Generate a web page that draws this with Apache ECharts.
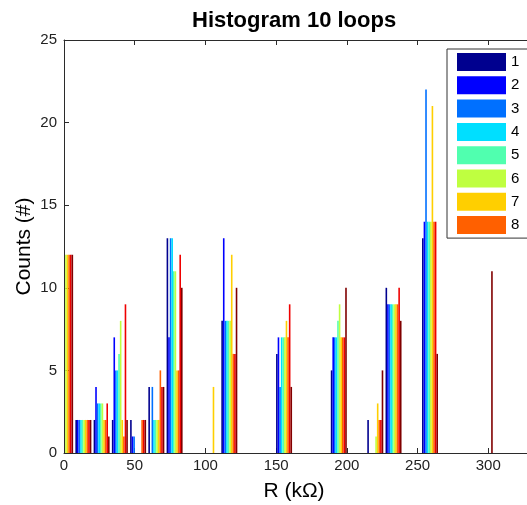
<!DOCTYPE html>
<html><head><meta charset="utf-8">
<script src="https://cdn.jsdelivr.net/npm/echarts@6/dist/echarts.min.js"></script>
<style>html,body{margin:0;padding:0;background:#fff}#c{width:527px;height:505px}</style>
</head><body><div id="c"></div>
<script>
// Bin centres of the histogram (kΩ)
const binCenters = [0.8, 13.7, 26.6, 39.5, 52.4, 65.3, 78.2, 91.1, 104.0, 116.9, 129.8, 142.7, 155.6, 168.5, 181.4, 194.3, 207.2, 220.1, 233.0, 245.9, 258.8, 271.7, 284.6, 297.5];
// Counts per loop, one value per bin
const loop1  = [0,2,2,2,2,4,13,0,0,8,0,0,6,0,0,5,0,2,10,0,13,0,0,0];
const loop2  = [0,2,4,7,1,0,7,0,0,13,0,0,7,0,0,7,0,0,9,0,14,0,0,0];
const loop3  = [0,2,3,5,1,4,13,0,0,8,0,0,4,0,0,7,0,0,9,0,22,0,0,0];
const loop4  = [0,2,3,5,0,2,13,0,0,8,0,0,7,0,0,7,0,0,9,0,14,0,0,0];
const loop5  = [0,2,3,6,0,2,11,0,0,8,0,0,7,0,0,8,0,0,9,0,14,0,0,0];
const loop6  = [12,2,3,8,0,2,11,0,0,8,0,0,7,0,0,9,0,1,9,0,14,0,0,0];
const loop7  = [12,2,2,2,0,2,5,0,4,12,0,0,8,0,0,7,0,3,9,0,21,0,0,0];
const loop8  = [12,2,2,1,2,5,5,0,0,6,0,0,7,0,0,7,0,2,9,0,14,0,0,0];
const loop9  = [12,2,3,9,2,4,12,0,0,6,0,0,9,0,0,7,0,2,10,0,14,0,0,0];
const loop10 = [12,2,1,2,2,4,10,0,0,10,0,0,4,0,0,10,0,5,8,0,6,0,0,11];
const loopNames = ['1','2','3','4','5','6','7','8','9','10'];
const legendNames = ['1','2','3','4','5','6','7','8'];
const loopColors = ['#00008F','#0000FF','#0070FF','#00DFFF','#50FFAF','#BFFF40','#FFCF00','#FF6000','#EF0000','#800000'];
const xTickValues = [0, 50, 100, 150, 200, 250, 300, 350];
const yTickValues = [0, 5, 10, 15, 20, 25];

const loops = [loop1, loop2, loop3, loop4, loop5, loop6, loop7, loop8, loop9, loop10];
const FONT = 'Liberation Sans, Arial, Helvetica, sans-serif';
const axisColor = '#2b2b2b';

const series = loops.map((vals, s) => ({
  name: loopNames[s],
  type: 'bar',
  barWidth: 1.6,
  barGap: '0%',
  clip: true,
  itemStyle: { color: loopColors[s] },
  data: binCenters.map((x, i) => [x, vals[i]])
}));

const chart = echarts.init(document.getElementById('c'), null, { renderer: 'canvas' });
chart.setOption({
  animation: false,
  backgroundColor: '#fff',
  textStyle: { fontFamily: FONT },
  title: {
    text: 'Histogram 10 loops',
    left: 192, top: 10, padding: 0,
    textStyle: { fontFamily: FONT, fontSize: 22, fontWeight: 'bold', color: '#000' }
  },
  grid: { left: 64, top: 40, width: 495, height: 413, containLabel: false, outerBoundsMode: 'none' },
  legend: {
    data: legendNames,
    orient: 'vertical',
    left: 447, top: 49,
    padding: [4, 34, 4, 10],
    itemWidth: 49, itemHeight: 18, itemGap: 5.3,
    icon: 'rect',
    borderColor: '#333', borderWidth: 1,
    backgroundColor: '#fff',
    textStyle: { fontFamily: FONT, fontSize: 15, color: '#000' },
    z: 10
  },
  xAxis: [{
    type: 'value', position: 'bottom',
    min: xTickValues[0], max: xTickValues[xTickValues.length - 1], interval: 50,
    axisLine: { show: true, lineStyle: { color: axisColor, width: 1 } },
    axisTick: { show: true, inside: true, length: 5, lineStyle: { color: axisColor } },
    axisLabel: { fontFamily: FONT, fontSize: 15, color: '#222', margin: 5 },
    splitLine: { show: false },
    name: 'R (kΩ)', nameLocation: 'middle', nameGap: 28, nameMoveOverlap: false,
    nameTextStyle: { fontFamily: FONT, fontSize: 21, color: '#000', padding: [0, 35, 0, 0] }
  }, {
    type: 'value', position: 'top',
    min: xTickValues[0], max: xTickValues[xTickValues.length - 1], interval: 50,
    axisLine: { show: true, onZero: false, lineStyle: { color: axisColor, width: 1 } },
    axisTick: { show: true, inside: true, length: 5, lineStyle: { color: axisColor } },
    axisLabel: { show: false },
    splitLine: { show: false }
  }],
  yAxis: [{
    type: 'value',
    min: yTickValues[0], max: yTickValues[yTickValues.length - 1], interval: 5,
    axisLine: { show: true, lineStyle: { color: axisColor, width: 1 } },
    axisTick: { show: true, inside: true, length: 5, lineStyle: { color: axisColor } },
    axisLabel: { fontFamily: FONT, fontSize: 15, color: '#222', margin: 7 },
    splitLine: { show: false },
    name: 'Counts (#)', nameLocation: 'middle', nameGap: 29, nameRotate: 90, nameMoveOverlap: false,
    nameTextStyle: { fontFamily: FONT, fontSize: 21, color: '#000' }
  }],
  series: series
});
</script>
</body></html>
